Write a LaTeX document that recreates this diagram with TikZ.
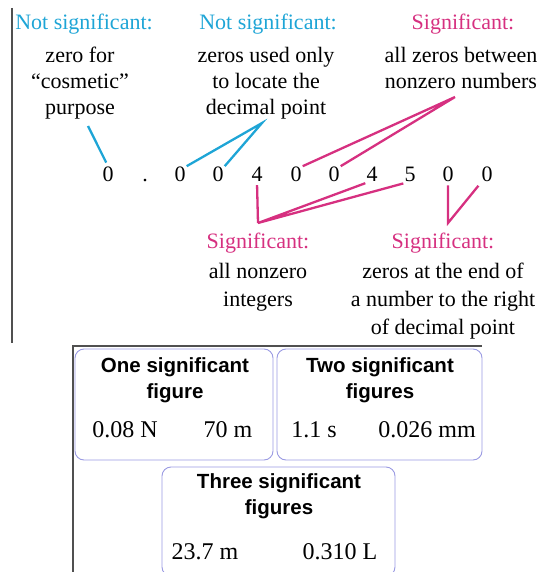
\documentclass[tikz,border=0pt]{standalone}
\usepackage{fontspec}
\setmainfont{Liberation Serif}
\setsansfont{Liberation Sans}
\usepackage{tikz}
\usetikzlibrary{positioning}
\definecolor{sigcyan}{HTML}{1EA5D6}
\definecolor{sigpink}{HTML}{D63080}
\definecolor{boxline}{HTML}{9A9AE2}
\definecolor{frameline}{HTML}{505050}
\tikzset{
  notehead/.style={inner sep=0pt,anchor=base,font=\rmfamily\fontsize{22}{26}\selectfont},
  note/.style={align=center,inner sep=0pt,anchor=north,font=\rmfamily\fontsize{22}{26}\selectfont},
  notelow/.style={note,font=\rmfamily\fontsize{22}{28}\selectfont},
  digit/.style={inner sep=1pt,anchor=base,font=\rmfamily\fontsize{22}{26}\selectfont},
  cyanline/.style={sigcyan,line width=2.3pt},
  pinkline/.style={sigpink,line width=2.3pt},
  sigbox/.style={draw=boxline,line width=0.9pt,rounded corners=9pt},
  boxhead/.style={align=center,inner sep=0pt,anchor=north,font=\sffamily\bfseries\fontsize{20.5}{26.5}\selectfont},
  value/.style={inner sep=0pt,anchor=base,font=\rmfamily\fontsize{24}{28}\selectfont},
}

\begin{document}
\begin{tikzpicture}[x=1pt,y=-1pt]
  \clip (0,0) rectangle (541,572);
  \draw[frameline,line width=1.4pt] (12,8) -- (12,343);
  % labels above the number
  \node[notehead,sigcyan] (cosmhead) at (84,30) {Not significant:};
  \node[note] (cosmtext) at (80,47) {zero for\\“cosmetic”\\purpose};
  \node[notehead,sigcyan] (lochead) at (268,30) {Not significant:};
  \node[note] (loctext) at (266,47) {zeros used only\\to locate the\\decimal point};
  \node[notehead,sigpink] (btwhead) at (463,30) {Significant:};
  \node[note] (btwtext) at (461,47) {all zeros between\\nonzero numbers};
  % the number
  \foreach \x/\c [count=\i] in {108/0,145/.,180/0,218/0,257/4,296/0,334/0,372/4,410/5,448/0,487/0}
    \node[digit] (d\i) at (\x,182) {\c};
  % labels below the number
  \node[notehead,sigpink] (nzhead) at (258,248) {Significant:};
  \node[notelow] (nztext) at (258,263) {all nonzero\\integers};
  \node[notehead,sigpink] (endhead) at (443,248) {Significant:};
  \node[notelow] (endtext) at (443,263) {zeros at the end of\\a number to the right\\of decimal point};
  % connectors
  \coordinate (cosm) at (88,126);
  \coordinate (locate) at (262,123);
  \coordinate (between) at (455,97);
  \coordinate (nonzero) at (258,223);
  \coordinate (trailing) at (448,223);
  \draw[cyanline,shorten >=4pt] (cosm) -- (d1.north);
  \draw[cyanline] (d3.north east) -- (locate) -- (d4.north east);
  \draw[pinkline] (d6.north east) -- (between) -- (d7.north east);
  \draw[pinkline,shorten <=2pt] (d5.south) -- (nonzero);
  \draw[pinkline] (d8.south west) -- (nonzero) -- (d9.south west);
  \draw[pinkline,shorten <=2pt,shorten >=3pt] (d10.south) -- (trailing) -- (d11.south west);
  % examples
  \draw[frameline,line width=1.1pt] (73,572) -- (73,346) -- (482,346);
  \node[sigbox,minimum width=198pt,minimum height=111pt] (one) at (174,404.5) {};
  \node[sigbox,minimum width=205pt,minimum height=111pt] (two) at (379.5,404.5) {};
  \node[sigbox,minimum width=233pt,minimum height=109pt] (three) at (278.5,521.5) {};
  \node[boxhead] (onehead) at (175,357) {One significant\\figure};
  \node[boxhead] (twohead) at (380,357) {Two significant\\figures};
  \node[boxhead] (threehead) at (279,473) {Three significant\\figures};
  \node[value] (onea) at (125,437) {0.08 N};
  \node[value] (oneb) at (228,437) {70 m};
  \node[value] (twoa) at (314,437) {1.1 s};
  \node[value] (twob) at (427,437) {0.026 mm};
  \node[value] (threea) at (205,559) {23.7 m};
  \node[value] (threeb) at (340,559) {0.310 L};
\end{tikzpicture}
\end{document}
